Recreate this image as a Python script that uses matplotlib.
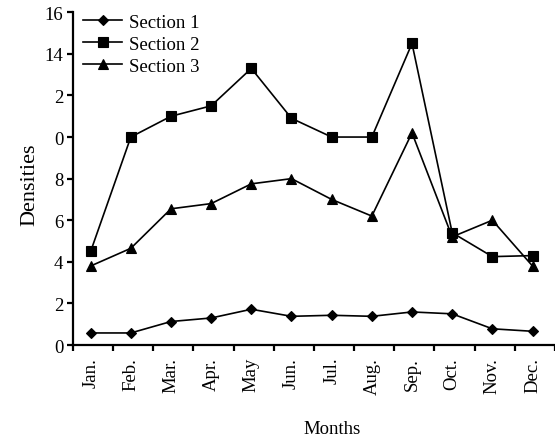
import matplotlib
matplotlib.use("Agg")
import matplotlib.pyplot as plt
import numpy as np

months = ["Jan.", "Feb.", "Mar.", "Apr.", "May", "Jun.", "Jul.", "Aug.",
          "Sep.", "Oct.", "Nov.", "Dec."]
section1 = [0.58, 0.58, 1.13, 1.30, 1.72, 1.38, 1.43, 1.38, 1.59, 1.50, 0.78, 0.66]
section2 = [4.5, 10.0, 11.0, 11.5, 13.3, 10.9, 10.0, 10.0, 14.5, 5.4, 4.25, 4.3]
section3 = [3.8, 4.65, 6.55, 6.8, 7.75, 8.0, 7.0, 6.2, 10.2, 5.2, 6.0, 3.8]
ytick_values = [0, 2, 4, 6, 8, 10, 12, 14, 16]
ytick_labels = ["0", "2", "4", "6", "8", "0", "2", "14", "16"]

plt.rcParams["font.family"] = ["Liberation Serif", "DejaVu Serif"]
plt.rcParams["mathtext.fontset"] = "stix"

fig = plt.figure(figsize=(5.55, 4.39), dpi=100)
ax = fig.add_axes([0.1315, 0.2118, 0.8685, 0.758])

x = np.arange(len(months))
line_kw = dict(color="black", linewidth=1.2, markeredgewidth=0.8)
ax.plot(x, section1, marker="D", markersize=4.8, label="Section 1", **line_kw)
ax.plot(x, section2, marker="s", markersize=7.0, label="Section 2", **line_kw)
ax.plot(x, section3, marker="^", markersize=7.8, label="Section 3", **line_kw)

ax.set_xlim(-0.44, 11.5)
ax.set_ylim(0, 16)

for side in ("top", "right"):
    ax.spines[side].set_visible(False)
for side in ("left", "bottom"):
    ax.spines[side].set_linewidth(1.6)

# boundary ticks between months, labels centred on each month
ax.set_xticks(np.arange(-0.44, 12, 1.0))
ax.set_xticklabels([])
ax.set_xticks(x, minor=True)
ax.set_xticklabels(months, minor=True, rotation=90, fontsize=13.5)
ax.tick_params(axis="x", which="major", direction="out", length=4.5, width=1.6)
ax.tick_params(axis="x", which="minor", length=0, pad=8.5)

ax.set_yticks(ytick_values)
ax.set_yticklabels(ytick_labels, fontsize=13.5)
ax.tick_params(axis="y", direction="out", length=4.5, width=1.6, pad=2.5)

ax.set_ylabel("Densities", fontsize=16)
ax.yaxis.set_label_coords(-0.069, 0.486)
ax.set_xlabel("Months", fontsize=13.5, va="center")
ax.xaxis.set_label_coords(0.537, -0.25)

ax.legend(loc="upper left", bbox_to_anchor=(0.021, 0.995), frameon=False,
          fontsize=13.5, handlelength=2.1, handletextpad=0.35,
          labelspacing=0.25, borderaxespad=0.0, borderpad=0.0)

fig.savefig("out.png", dpi=100)
